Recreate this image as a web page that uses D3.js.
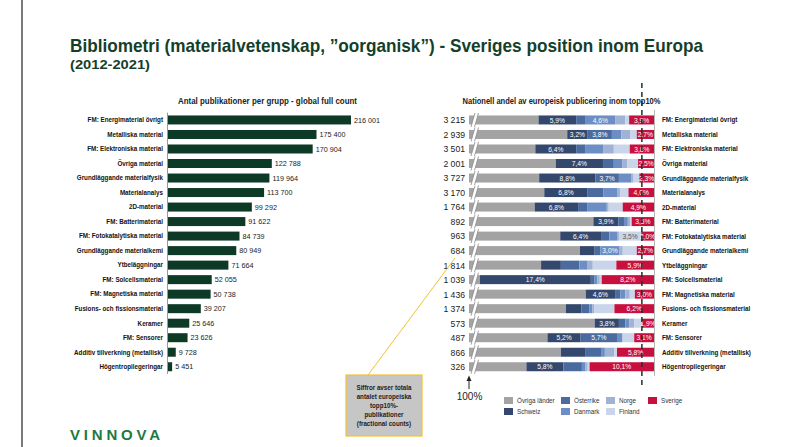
<!DOCTYPE html>
<html>
<head>
<meta charset="utf-8">
<script src="https://cdn.jsdelivr.net/npm/d3@7"></script>
<style>
  body { margin: 0; background: #fff; }
  svg { display: block; font-family: "Liberation Sans", Arial, sans-serif; }
</style>
</head>
<body>
<svg id="chart" width="790" height="447"></svg>
<script>
// kategorier (samma ordning i båda diagrammen)
var categories = ["FM: Energimaterial övrigt", "Metalliska material", "FM: Elektroniska material", "Övriga material",
    "Grundläggande materialfysik", "Materialanalys", "2D-material", "FM: Batterimaterial", "FM: Fotokatalytiska material",
    "Grundläggande materialkemi", "Ytbeläggningar", "FM: Solcellsmaterial", "FM: Magnetiska material",
    "Fusions- och fissionsmaterial", "Keramer", "FM: Sensorer", "Additiv tillverkning (metallisk)", "Högentropilegeringar"];

var globalCount = [216001, 175400, 170904, 122788, 119964, 113700, 99292, 91622, 84739, 80949, 71664, 52055, 50738, 39207, 25646, 23626, 9728, 5451];
var europeTop10 = [3215, 2939, 3501, 2001, 3727, 3170, 1764, 892, 963, 684, 1814, 1039, 1436, 1374, 573, 487, 866, 326];

// andelar i procent
var ovriga    = [81.9, 86.4, 81.4, 84.6, 82.0, 82.8, 81.3, 90.5, 85.3, 88.4, 82.3, 72.7, 89.3, 86.2, 90.7, 83.3, 85.4, 80.0];
var schweiz   = [5.9, 3.2, 6.4, 7.4, 8.8, 6.8, 6.8, 3.9, 6.4, 2.3, 3.1, 17.4, 4.6, 2.4, 3.8, 5.2, 3.8, 5.8];
var osterrike = [1.5, 3.8, 1.4, 1.7, 3.7, 2.5, 1.5, 0.9, 1.3, 0.9, 2.9, 0.6, 0.8, 1.3, 1.0, 5.7, 2.5, 2.9];
var danmark   = [4.6, 1.5, 2.9, 1.3, 1.9, 2.2, 3.0, 0.6, 1.2, 3.0, 1.3, 0.4, 0.8, 0.4, 0.6, 0.8, 0.6, 0.5];
var norge     = [1.6, 1.4, 1.6, 0.8, 0.4, 0.4, 0.3, 0.4, 0.3, 0.5, 0.8, 0.4, 0.7, 0.3, 0.8, 0.1, 1.5, 0.4];
var finland   = [0.6, 1.0, 2.5, 1.7, 0.9, 1.3, 2.2, 0.2, 3.5, 2.2, 3.7, 0.3, 0.8, 3.2, 1.2, 1.8, 0.4, 0.3];
var sverige   = [3.9, 2.7, 3.8, 2.5, 2.3, 4.0, 4.9, 3.5, 2.0, 2.7, 5.9, 8.2, 3.0, 6.2, 1.9, 3.1, 5.8, 10.1];

var seriesNames = ["Övriga länder", "Schweiz", "Österrike", "Danmark", "Norge", "Finland", "Sverige"];
var seriesValues = [ovriga, schweiz, osterrike, danmark, norge, finland, sverige];
var seriesColors = ["#a3a3a3", "#34486d", "#4b6b9e", "#6c8ec4", "#a0b3d4", "#cad5e9", "#c8103e"];

// vilka segment som har etikett (radindex per serie)
var labelRows = {
    "Schweiz": [0, 1, 2, 3, 4, 5, 6, 7, 8, 11, 12, 14, 15, 17],
    "Österrike": [1, 4, 15],
    "Danmark": [0, 9],
    "Finland": [8],
    "Sverige": [0, 1, 2, 3, 4, 5, 6, 7, 8, 9, 10, 11, 12, 13, 14, 15, 16, 17]
};
var swedenAverage = 98.1;   // streckad linje

var loc = d3.formatLocale({ decimal: ",", thousands: "\u00a0", grouping: [3], currency: ["", ""] });
var fmtInt = loc.format(",d");
var fmtPct = function (v) { return loc.format(".1f")(v) + "%"; };

// trycker ihop text så att den liknar ett smalt typsnitt
function squeeze(sel, factor) {
    sel.each(function () {
        var w = this.getComputedTextLength();
        this.setAttribute("textLength", w * factor);
        this.setAttribute("lengthAdjust", "spacingAndGlyphs");
    });
}

var svg = d3.select("#chart");
var green = "#143f2b";

// ram och rubrik
svg.append("line").attr("x1", 22).attr("x2", 22).attr("y1", 0).attr("y2", 447)
    .attr("stroke", "#222").attr("stroke-width", 1.2);

svg.append("text").attr("x", 70).attr("y", 52)
    .attr("font-size", 19).attr("font-weight", "bold").attr("fill", green)
    .attr("textLength", 633).attr("lengthAdjust", "spacingAndGlyphs")
    .text("Bibliometri (materialvetenskap, \u201doorganisk\u201d) - Sveriges position inom Europa");
svg.append("text").attr("x", 70).attr("y", 68.5)
    .attr("font-size", 12.5).attr("font-weight", "bold").attr("fill", green)
    .attr("textLength", 80).attr("lengthAdjust", "spacingAndGlyphs")
    .text("(2012-2021)");

var rows = categories.map(function (c, i) { return i; });
var y = d3.scaleBand().domain(rows).range([112.7, 374]).paddingInner(0.38).paddingOuter(0.19);
var bh = y.bandwidth();

// ---------- vänster diagram ----------
svg.append("text").attr("x", 178).attr("y", 104)
    .attr("font-size", 8.3).attr("font-weight", "bold").attr("fill", "#222")
    .attr("textLength", 179).attr("lengthAdjust", "spacingAndGlyphs")
    .text("Antal publikationer per grupp - global full count");

var xL = d3.scaleLinear().domain([0, 216001]).range([167.5, 351]);

var left = svg.append("g");
left.selectAll(".bar")
    .data(rows)
    .enter().append("rect")
    .attr("x", xL(0))
    .attr("y", function (i) { return y(i); })
    .attr("width", function (i) { return xL(globalCount[i]) - xL(0); })
    .attr("height", bh)
    .attr("fill", "#0c3a27");

var vals = left.selectAll(".val")
    .data(rows)
    .enter().append("text")
    .attr("x", function (i) { return xL(globalCount[i]) + 3; })
    .attr("y", function (i) { return y(i) + bh / 2 + 2.6; })
    .attr("font-size", 7.6).attr("fill", "#222")
    .text(function (i) { return fmtInt(globalCount[i]); });
squeeze(vals, 0.95);

var axL = left.append("g")
    .attr("transform", "translate(" + xL(0) + ",0)")
    .call(d3.axisLeft(y).tickSize(0).tickPadding(4.5).tickFormat(function (i) { return categories[i]; }));
axL.select(".domain").attr("stroke", "#9a9a9a").attr("d", "M0,112.7V374");
axL.selectAll("text").attr("font-size", 7.2).attr("font-weight", "bold").attr("fill", "#111")
    .attr("font-family", "inherit");
squeeze(axL.selectAll("text"), 0.87);

// ---------- höger diagram ----------
svg.append("text").attr("x", 462.5).attr("y", 104)
    .attr("font-size", 8.3).attr("font-weight", "bold").attr("fill", "#222")
    .attr("textLength", 198).attr("lengthAdjust", "spacingAndGlyphs")
    .text("Nationell andel av europeisk publicering inom topp10%");

var xR = d3.scaleLinear().domain([71, 100]).range([469, 654]);

var table = rows.map(function (i) {
    var d = { row: i };
    seriesNames.forEach(function (s, k) { d[s] = seriesValues[k][i]; });
    return d;
});
var stacked = d3.stack().keys(seriesNames)(table);
var color = d3.scaleOrdinal().domain(seriesNames).range(seriesColors);

var right = svg.append("g");
var layers = right.selectAll(".layer")
    .data(stacked)
    .enter().append("g")
    .attr("fill", function (d) { return color(d.key); });

layers.selectAll("rect")
    .data(function (d) { return d; })
    .enter().append("rect")
    .attr("x", function (d) { return xR(Math.max(d[0], 71)); })
    .attr("y", function (d) { return y(d.data.row); })
    .attr("width", function (d) { return xR(d[1]) - xR(Math.max(d[0], 71)); })
    .attr("height", bh);

// segmentetiketter
stacked.forEach(function (layer) {
    var show = labelRows[layer.key] || [];
    var t = right.selectAll(".lbl-" + seriesNames.indexOf(layer.key))
        .data(layer.filter(function (d) { return show.indexOf(d.data.row) >= 0; }))
        .enter().append("text")
        .attr("x", function (d) { return (xR(d[0]) + xR(d[1])) / 2; })
        .attr("y", function (d) { return y(d.data.row) + bh / 2 + 2.6; })
        .attr("text-anchor", "middle")
        .attr("font-size", 7.6)
        .attr("fill", layer.key === "Finland" ? "#555" : "#fff")
        .text(function (d) { return fmtPct(d.data[layer.key]); });
    squeeze(t, 0.88);
});

// axelbrott
var brk = right.selectAll(".brk").data(rows).enter().append("g");
brk.append("path")
    .attr("d", function (i) {
        var t = y(i) - 2.5, b = y(i) + bh + 2.5;
        return "M471," + b + "L475," + t + "L478.5," + t + "L474.5," + b + "Z";
    })
    .attr("fill", "#fff");
brk.append("path")
    .attr("d", function (i) {
        var t = y(i) - 2.5, b = y(i) + bh + 2.5;
        return "M471," + b + "L475," + t + "M474.5," + b + "L478.5," + t;
    })
    .attr("stroke", "#8a8a8a").attr("stroke-width", 0.8).attr("fill", "none");

// höger kant
right.append("line").attr("x1", xR(100) + 0.5).attr("x2", xR(100) + 0.5).attr("y1", 110).attr("y2", 376)
    .attr("stroke", "#b5b5b5").attr("stroke-width", 1);

// antal publikationer i topp10%
var nums = right.selectAll(".num")
    .data(rows)
    .enter().append("text")
    .attr("x", 465)
    .attr("y", function (i) { return y(i) + bh / 2 + 3.4; })
    .attr("text-anchor", "end")
    .attr("font-size", 9.6).attr("fill", "#222")
    .text(function (i) { return fmtInt(europeTop10[i]); });
squeeze(nums, 0.9);

// kategorietiketter till höger
var cats = right.selectAll(".cat")
    .data(rows)
    .enter().append("text")
    .attr("x", 662)
    .attr("y", function (i) { return y(i) + bh / 2 + 2.5; })
    .attr("font-size", 7.2).attr("font-weight", "bold").attr("fill", "#111")
    .text(function (i) { return categories[i]; });
squeeze(cats, 0.87);

// streckad linje
right.append("line").attr("x1", xR(swedenAverage)).attr("x2", xR(swedenAverage)).attr("y1", 83).attr("y2", 389)
    .attr("stroke", "#1b3328").attr("stroke-width", 1.5).attr("stroke-dasharray", "5,4");

// 100%-pil
right.append("line").attr("x1", 469).attr("x2", 469).attr("y1", 380).attr("y2", 389)
    .attr("stroke", "#222").attr("stroke-width", 1);
right.append("path").attr("d", "M466.5,381L469,375.5L471.5,381Z").attr("fill", "#222");
right.append("text").attr("x", 469.5).attr("y", 400).attr("text-anchor", "middle")
    .attr("font-size", 10).attr("fill", "#222").text("100%");

// legend
var legendPos = [[504, 397], [504, 408], [561, 397], [561, 408], [606, 397], [606, 408], [648, 397]];
var legendOrder = ["Övriga länder", "Schweiz", "Österrike", "Danmark", "Norge", "Finland", "Sverige"];
var leg = right.selectAll(".leg").data(legendOrder).enter().append("g")
    .attr("transform", function (d, k) { return "translate(" + legendPos[k][0] + "," + legendPos[k][1] + ")"; });
leg.append("rect").attr("width", 9).attr("height", 7).attr("fill", function (d) { return color(d); });
var legT = leg.append("text").attr("x", 13).attr("y", 6.2).attr("font-size", 7.4).attr("fill", "#333")
    .text(function (d) { return d; });
squeeze(legT, 0.85);

// förklaringsruta
svg.append("line").attr("x1", 368).attr("y1", 375).attr("x2", 455).attr("y2", 258)
    .attr("stroke", "#f2c230").attr("stroke-width", 1);
svg.append("rect").attr("x", 346).attr("y", 375).attr("width", 76).attr("height", 61)
    .attr("fill", "#c6c6c6").attr("stroke", "#f2c230").attr("stroke-width", 1.2);
var boxLines = ["Siffror avser totala", "antalet europeiska", "topp10%-", "publikationer", "(fractional counts)"];
var boxT = svg.append("g").selectAll("text").data(boxLines).enter().append("text")
    .attr("x", 384).attr("y", function (d, k) { return 389.5 + k * 9.1; })
    .attr("text-anchor", "middle").attr("font-size", 7.6).attr("font-weight", "bold").attr("fill", "#222")
    .text(function (d) { return d; });
squeeze(boxT, 0.82);

// logotyp
svg.append("text").attr("x", 70).attr("y", 440)
    .attr("font-size", 15).attr("font-weight", "bold")
    .attr("textLength", 90).attr("lengthAdjust", "spacing")
    .attr("fill", "#1e7a3e")
    .text("VINNOVA");
</script>
</body>
</html>
